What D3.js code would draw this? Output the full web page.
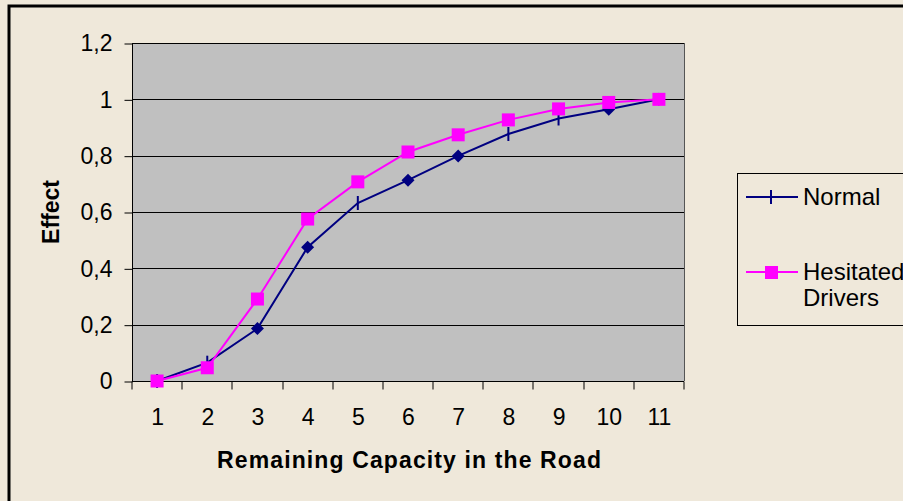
<!DOCTYPE html>
<html>
<head>
<meta charset="utf-8">
<script src="https://cdn.jsdelivr.net/npm/d3@7"></script>
<style>
  body { margin: 0; background: #efe8da; overflow: hidden; }
  text { font-family: Arial, "Liberation Sans", sans-serif; }
</style>
</head>
<body>
<script>
// data
var categories = [1, 2, 3, 4, 5, 6, 7, 8, 9, 10, 11];
var normal = [0, 0.065, 0.186, 0.475, 0.632, 0.713, 0.799, 0.877, 0.932, 0.965, 1.0];
var hesitated = [0, 0.047, 0.291, 0.575, 0.707, 0.813, 0.874, 0.927, 0.966, 0.989, 1.0];
var normalMarks = ['tick', 'tick', 'diamond', 'diamond', 'tick', 'diamond', 'diamond', 'tick', 'tick', 'diamond', 'diamond'];
var yTicks = [0, 0.2, 0.4, 0.6, 0.8, 1, 1.2];

var W = 903, H = 501;
var svg = d3.select('body').append('svg')
  .attr('width', W)
  .attr('height', H);

// outer chart border (right/bottom clipped in the original)
svg.append('rect')
  .attr('x', 9).attr('y', 6)
  .attr('width', 1000).attr('height', 1000)
  .attr('fill', '#efe8da')
  .attr('stroke', '#000').attr('stroke-width', 3);

var pL = 132, pR = 684, pT = 43, pB = 381;

var x = d3.scaleBand().domain(categories).range([pL, pR]);
var y = d3.scaleLinear().domain([0, 1.2]).range([pB, pT]);
var cx = function(i) { return x(categories[i]) + x.bandwidth() / 2; };

svg.append('rect')
  .attr('x', pL).attr('y', pT)
  .attr('width', pR - pL).attr('height', pB - pT)
  .attr('fill', '#c0c0c0');

// gridlines
svg.append('g').selectAll('line').data(yTicks.filter(function(d) { return d > 0; }))
  .enter().append('line')
  .attr('x1', pL).attr('x2', pR)
  .attr('y1', function(d) { return Math.round(y(d)) + 0.5; })
  .attr('y2', function(d) { return Math.round(y(d)) + 0.5; })
  .attr('stroke', '#000').attr('stroke-width', 1);

// plot right border
svg.append('line')
  .attr('x1', pR + 0.5).attr('x2', pR + 0.5)
  .attr('y1', pT).attr('y2', pB)
  .attr('stroke', '#555').attr('stroke-width', 1);

var fmt = function(d) { return String(d).replace('.', ','); };

var yAxis = svg.append('g')
  .attr('transform', 'translate(' + (pL + 0.5) + ',0.5)')
  .call(d3.axisLeft(y).tickValues(yTicks).tickFormat(fmt).tickSize(8).tickPadding(12));
yAxis.selectAll('text').attr('font-size', 23).attr('fill', '#000')
  .attr('font-family', 'Arial, "Liberation Sans", sans-serif');
yAxis.selectAll('line, path').attr('stroke', '#000');
yAxis.select('path').attr('d', 'M0,' + (pT - 0.5) + 'V' + (pB - 0.5));

var xAxis = svg.append('g')
  .attr('transform', 'translate(0.5,' + (pB + 0.5) + ')')
  .call(d3.axisBottom(x).tickSize(0).tickPadding(27));
xAxis.select('path').attr('d', 'M' + (pL - 0.5) + ',0H' + (pR - 0.5)).attr('stroke', '#000');
xAxis.selectAll('text').attr('font-size', 23).attr('fill', '#000')
  .attr('font-family', 'Arial, "Liberation Sans", sans-serif');
// tick marks on band boundaries
xAxis.append('g').selectAll('line').data(d3.range(categories.length + 1))
  .enter().append('line')
  .attr('x1', function(i) { return Math.round(pL + i * x.step()) - 0.5; })
  .attr('x2', function(i) { return Math.round(pL + i * x.step()) - 0.5; })
  .attr('y1', 0).attr('y2', 8)
  .attr('stroke', '#000');

// axis titles
svg.append('text')
  .attr('x', 409).attr('y', 468)
  .attr('text-anchor', 'middle')
  .attr('font-size', 23).attr('font-weight', 'bold')
  .attr('textLength', 384).attr('lengthAdjust', 'spacing')
  .text('Remaining Capacity in the Road');

svg.append('text')
  .attr('transform', 'translate(59,212) rotate(-90)')
  .attr('text-anchor', 'middle')
  .attr('font-size', 23).attr('font-weight', 'bold')
  .text('Effect');

var line = d3.line()
  .x(function(d, i) { return cx(i); })
  .y(function(d) { return y(d); });

var navy = '#000080', pink = '#ff00ff';

svg.append('path').datum(normal)
  .attr('d', line).attr('fill', 'none')
  .attr('stroke', navy).attr('stroke-width', 2);

function drawMark(g, kind, px, py) {
  if (kind === 'diamond') {
    g.append('path')
      .attr('d', 'M' + px + ',' + (py - 6.5) + 'L' + (px + 6.5) + ',' + py + 'L' + px + ',' + (py + 6.5) + 'L' + (px - 6.5) + ',' + py + 'Z')
      .attr('fill', navy);
  } else {
    g.append('line')
      .attr('x1', px).attr('x2', px)
      .attr('y1', py - 7).attr('y2', py + 7)
      .attr('stroke', navy).attr('stroke-width', 2);
  }
}

var gN = svg.append('g');
normal.forEach(function(d, i) { drawMark(gN, normalMarks[i], cx(i), y(d)); });

svg.append('path').datum(hesitated)
  .attr('d', line).attr('fill', 'none')
  .attr('stroke', pink).attr('stroke-width', 2);

svg.append('g').selectAll('rect').data(hesitated)
  .enter().append('rect')
  .attr('x', function(d, i) { return cx(i) - 6.5; })
  .attr('y', function(d) { return y(d) - 6.5; })
  .attr('width', 13).attr('height', 13)
  .attr('fill', pink);

// legend
var lg = svg.append('g');
lg.append('rect')
  .attr('x', 737.5).attr('y', 173.5)
  .attr('width', 300).attr('height', 152)
  .attr('fill', '#efe8da').attr('stroke', '#000').attr('stroke-width', 1);

lg.append('line').attr('x1', 746).attr('x2', 798).attr('y1', 197).attr('y2', 197)
  .attr('stroke', navy).attr('stroke-width', 2);
lg.append('line').attr('x1', 771).attr('x2', 771).attr('y1', 190).attr('y2', 204)
  .attr('stroke', navy).attr('stroke-width', 2);
lg.append('text').attr('x', 803).attr('y', 205).attr('font-size', 24).text('Normal');

lg.append('line').attr('x1', 746).attr('x2', 798).attr('y1', 272).attr('y2', 272)
  .attr('stroke', pink).attr('stroke-width', 2);
lg.append('rect').attr('x', 765).attr('y', 266).attr('width', 13).attr('height', 13)
  .attr('fill', pink);
lg.append('text').attr('x', 803).attr('y', 280).attr('font-size', 24).text('Hesitated');
lg.append('text').attr('x', 803).attr('y', 306).attr('font-size', 24).text('Drivers');
</script>
</body>
</html>
